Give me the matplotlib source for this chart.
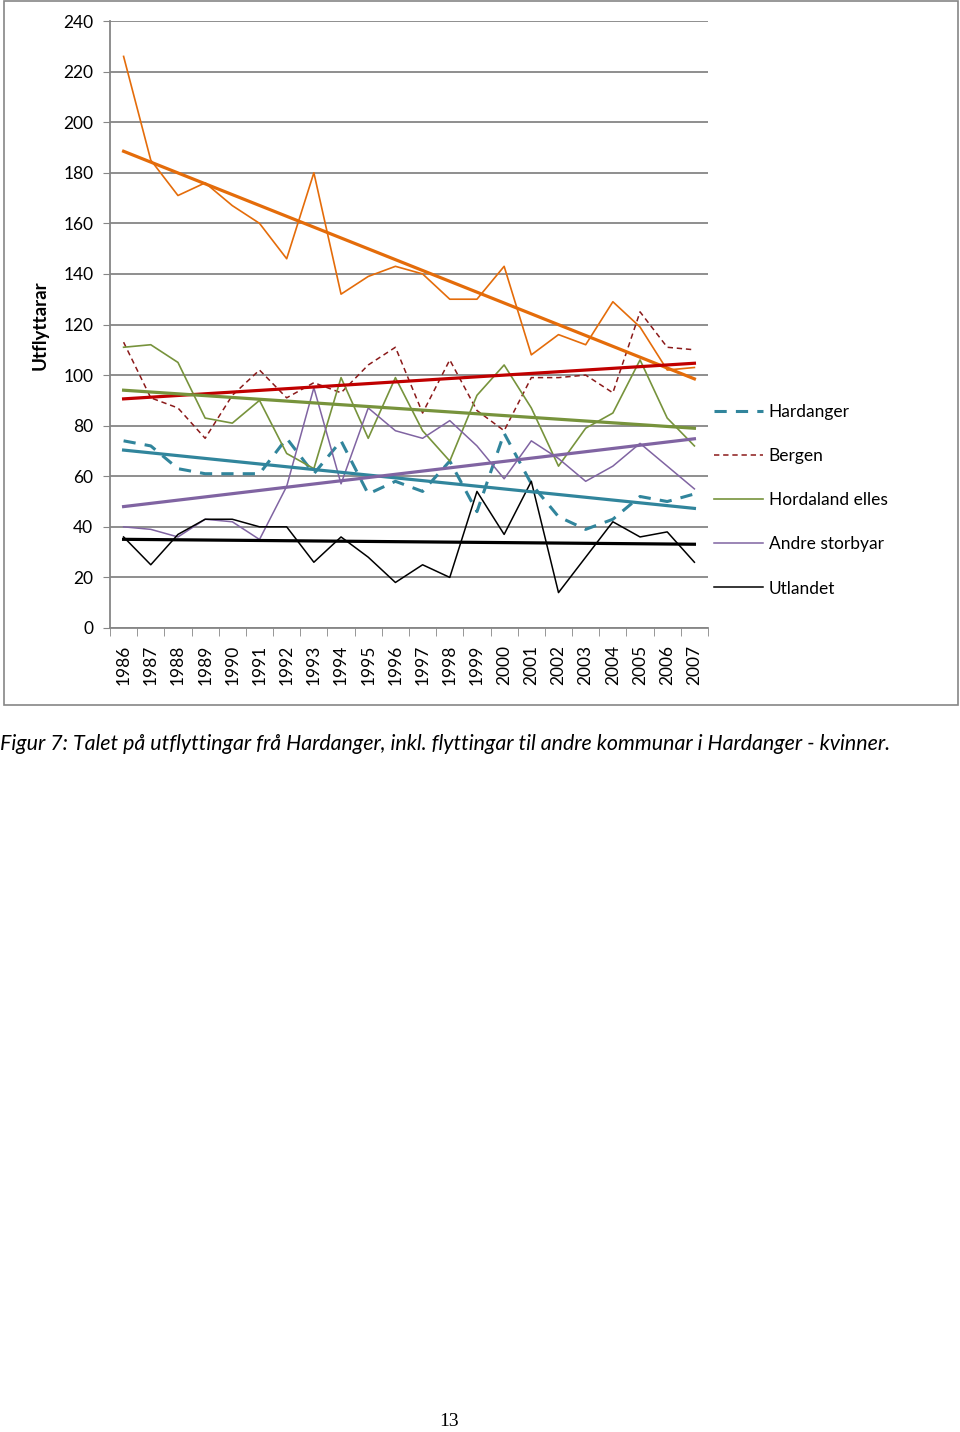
import numpy as np
import matplotlib.pyplot as plt
from matplotlib.patches import Rectangle
from matplotlib.lines import Line2D

# Data
years = [str(y) for y in range(1986, 2008)]
totalt = [226, 185, 171, 176, 167, 160, 146, 180, 132, 139, 143, 140,
          130, 130, 143, 108, 116, 112, 129, 119, 102, 103]
hardanger = [74, 72, 63, 61, 61, 61, 75, 61, 74, 53, 58, 54,
             66, 46, 77, 57, 44, 39, 43, 52, 50, 53]
bergen = [113, 91, 87, 75, 92, 102, 91, 97, 93, 104, 111, 85,
          106, 86, 78, 99, 99, 100, 93, 125, 111, 110]
hordaland = [111, 112, 105, 83, 81, 90, 69, 63, 99, 75, 99, 78,
             66, 92, 104, 87, 64, 79, 85, 106, 83, 72]
storbyar = [40, 39, 36, 43, 42, 35, 56, 95, 57, 87, 78, 75,
            82, 72, 59, 74, 67, 58, 64, 73, 64, 55]
utlandet = [36, 25, 37, 43, 43, 40, 40, 26, 36, 28, 18, 25,
            20, 54, 37, 58, 14, 28, 42, 36, 38, 26]

W, H = 960, 1432
fig = plt.figure(figsize=(W / 100, H / 100), dpi=100)
ax = fig.add_axes([110 / W, 1 - 628 / H, 598 / W, 607 / H])

x = np.arange(len(years))
grey = "#868686"

# (values, colour, linewidth, dashes, legend label, trend colour)
series = [
    (totalt, "#E46C0A", 1.2, None, None, "#E46C0A"),
    (hardanger, "#31859C", 2.2, (4, 3), "Hardanger", "#31859C"),
    (bergen, "#8B1A1A", 1.1, (3.5, 2.5), "Bergen", "#C00000"),
    (hordaland, "#77933C", 1.2, None, "Hordaland elles", "#77933C"),
    (storbyar, "#8064A2", 1.1, None, "Andre storbyar", "#8064A2"),
    (utlandet, "black", 1.1, None, "Utlandet", "black"),
]

handles = []
for vals, col, lw, dash, lab, tcol in series:
    ln, = ax.plot(x, vals, color=col, lw=lw, zorder=3)
    if dash:
        ln.set_dashes(dash)
    k, m = np.polyfit(x, vals, 1)
    ax.plot(x, k * x + m, color=tcol, lw=2.3, zorder=4)
    if lab:
        h = Line2D([], [], color=col, lw=lw)
        if dash:
            h.set_dashes(dash)
        handles.append((h, lab))

ax.set_xlim(-0.5, len(years) - 0.5)
ax.set_ylim(0, 240)
ax.set_yticks(range(0, 241, 20))
ax.yaxis.grid(True, color=grey, lw=1.3)
ax.set_axisbelow(True)

ax.set_xticks(x)
ax.set_xticklabels(years, rotation=90, fontsize=12.5, family="Lato")
ax.set_xticks(np.arange(-0.5, len(years), 1), minor=True)
ax.tick_params(axis="x", which="major", length=0, pad=12)
ax.tick_params(axis="x", which="minor", length=6, color=grey, direction="out")
ax.tick_params(axis="y", length=5, color=grey, pad=7, labelsize=12.5)
for t in ax.get_yticklabels():
    t.set_family("Lato")

for s in ["top", "right"]:
    ax.spines[s].set_visible(False)
for s in ["left", "bottom"]:
    ax.spines[s].set_color(grey)
    ax.spines[s].set_linewidth(1.3)

fig.text(40 / W, 1 - 325 / H, "Utflyttarar", rotation=90, ha="center",
         va="center", fontsize=13.5, fontweight="bold", family="Lato")

fig.legend([h for h, _ in handles], [l for _, l in handles],
           loc="upper left", bbox_to_anchor=(714 / W, 1 - 404 / H),
           frameon=False, prop={"family": "Lato", "size": 12.5},
           handlelength=2.8, handletextpad=0.35, labelspacing=1.62,
           borderpad=0, borderaxespad=0)

# chart frame
fig.patches.append(Rectangle((4 / W, 1 - 705 / H), 954 / W, 704 / H,
                             transform=fig.transFigure, fill=False,
                             edgecolor=grey, lw=1.2))

fig.text(0, 1 - 744 / H,
         "Figur 7: Talet på utflyttingar frå Hardanger, inkl. flyttingar til andre kommunar i Hardanger - kvinner.",
         ha="left", va="center", fontsize=15.4, style="italic", family="Lato")

fig.text(449 / W, 1 - 1421 / H, "13", ha="center", va="center",
         fontsize=14, family="Liberation Serif")

fig.savefig("out.png", dpi=100)
